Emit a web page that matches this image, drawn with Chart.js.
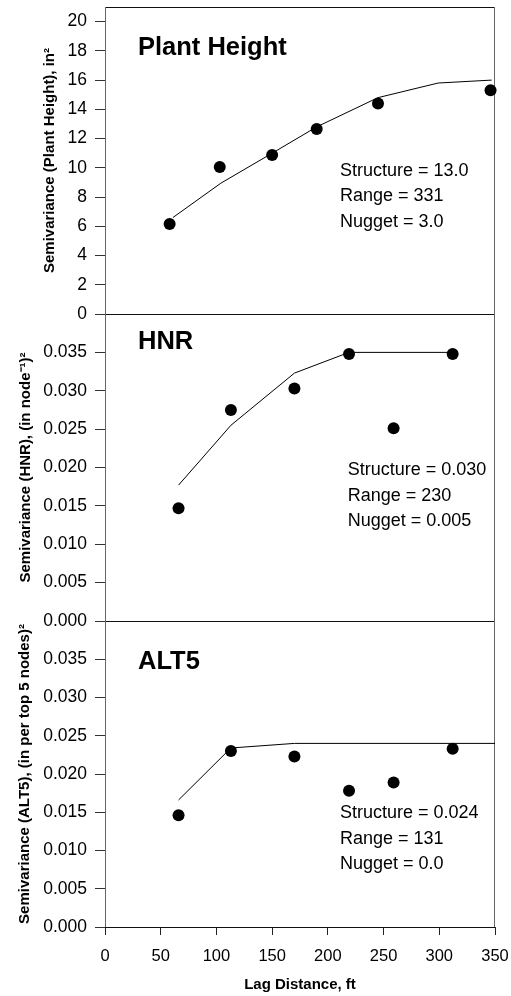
<!DOCTYPE html>
<html>
<head>
<meta charset="utf-8">
<title>Semivariograms</title>
<script src="https://cdn.jsdelivr.net/npm/chart.js@4.4.1/dist/chart.umd.min.js"></script>
<style>
  body { margin: 0; background: #fff; }
  #wrap { position: relative; width: 511px; height: 996px; }
  #wrap canvas { position: absolute; left: 0; top: 0; }
</style>
</head>
<body>
<div id="wrap">
  <canvas id="plant-chart" width="511" height="996"></canvas>
  <canvas id="hnr-chart" width="511" height="996"></canvas>
  <canvas id="alt5-chart" width="511" height="996"></canvas>
</div>
<script>
const FONT = '"Liberation Sans", Arial, sans-serif';

// tick values
const lagTicks = [0, 50, 100, 150, 200, 250, 300, 350];
const plantTicks = [0, 2, 4, 6, 8, 10, 12, 14, 16, 18, 20];
const hnrTicks = [0, 0.005, 0.010, 0.015, 0.020, 0.025, 0.030, 0.035, 0.040];
const alt5Ticks = [0, 0.005, 0.010, 0.015, 0.020, 0.025, 0.030, 0.035, 0.040];

// Plant Height
const lagPlant = [58, 103, 150, 190, 245, 346];
const semivarPlant = [6.15, 10.05, 10.87, 12.65, 14.4, 15.3];
const modelLagPlant = [61, 104, 150, 190, 245, 299, 347];
const modelPlant = [6.6, 8.95, 11.0, 12.8, 14.8, 15.8, 16.0];

// HNR
const lagHNR = [66, 113, 170, 219, 259, 312];
const semivarHNR = [0.0147, 0.0275, 0.0303, 0.0348, 0.0251, 0.0348];
const modelLagHNR = [66, 113, 170, 219, 312];
const modelHNR = [0.0177, 0.0255, 0.0323, 0.0350, 0.0350];

// ALT5
const lagALT5 = [66, 113, 170, 219, 259, 312];
const semivarALT5 = [0.0146, 0.0230, 0.0223, 0.0178, 0.0189, 0.0233];
const modelLagALT5 = [66, 113, 170, 350];
const modelALT5 = [0.0166, 0.0234, 0.0240, 0.0240];

// frame around each panel
const panelFrame = {
    id: 'panelFrame',
    beforeDatasetsDraw(chart) {
        const {ctx, chartArea: a} = chart;
        ctx.save();
        ctx.lineWidth = 1;
        ctx.strokeStyle = '#111';
        ctx.beginPath();
        ctx.moveTo(a.left, a.top + 0.5);
        ctx.lineTo(a.right, a.top + 0.5);
        ctx.moveTo(a.left, a.bottom + 0.5);
        ctx.lineTo(a.right, a.bottom + 0.5);
        ctx.stroke();
        ctx.strokeStyle = '#666';
        ctx.beginPath();
        ctx.moveTo(a.left + 0.5, a.top);
        ctx.lineTo(a.left + 0.5, a.bottom);
        ctx.moveTo(a.right - 0.5, a.top);
        ctx.lineTo(a.right - 0.5, a.bottom);
        ctx.stroke();
        ctx.restore();
    }
};

// panel name and fit parameters
const panelText = {
    id: 'panelText',
    afterDraw(chart, args, opts) {
        const {ctx, chartArea: a} = chart;
        ctx.save();
        ctx.fillStyle = '#000';
        ctx.textAlign = 'left';
        ctx.textBaseline = 'alphabetic';
        ctx.font = 'bold 25.5px ' + FONT;
        ctx.fillText(opts.name, a.left + 33, a.top + opts.nameY);
        ctx.font = '18px ' + FONT;
        opts.lines.forEach((t, i) => {
            ctx.fillText(t, a.left + opts.linesX, a.top + opts.linesY + i * 25.5);
        });
        ctx.restore();
    }
};

function toPoints(xs, ys) {
    return xs.map((x, i) => ({x: x, y: ys[i]}));
}

// build one panel
function createPanel(id, cfg) {
    const ctx = document.getElementById(id).getContext('2d');
    new Chart(ctx, {
        type: 'scatter',
        data: {
            datasets: [{
                data: toPoints(cfg.lags, cfg.values),
                showLine: false,
                pointRadius: 6,
                pointHoverRadius: 6,
                backgroundColor: '#000',
                borderWidth: 0,
                clip: false
            }, {
                data: toPoints(cfg.modelLags, cfg.model),
                showLine: true,
                pointRadius: 0,
                borderColor: '#000',
                borderWidth: 1,
                clip: false
            }]
        },
        plugins: [panelFrame, panelText],
        options: {
            responsive: false,
            animation: false,
            events: [],
            layout: {
                padding: {top: cfg.top, bottom: cfg.showX ? 0 : 996 - cfg.bottom, left: 0, right: 16}
            },
            plugins: {
                legend: {display: false},
                tooltip: {enabled: false},
                panelText: cfg.text
            },
            scales: {
                x: {
                    type: 'linear',
                    min: 0,
                    max: 350,
                    display: cfg.showX,
                    afterBuildTicks: scale => {
                        scale.ticks = lagTicks.map(v => ({value: v}));
                    },
                    afterFit: scale => {
                        scale.height = cfg.showX ? 996 - cfg.bottom : 0;
                        scale.paddingLeft = 0;
                        scale.paddingRight = 0;
                    },
                    border: {display: false},
                    grid: {
                        drawOnChartArea: false,
                        drawTicks: true,
                        tickLength: 8,
                        color: '#222'
                    },
                    ticks: {
                        padding: 12,
                        color: '#000',
                        font: {family: FONT, size: 16.5},
                        maxRotation: 0
                    },
                    title: {
                        display: true,
                        text: 'Lag Distance, ft',
                        color: '#000',
                        font: {family: FONT, size: 15, weight: 'bold'},
                        padding: {top: 0, bottom: 2}
                    }
                },
                y: {
                    type: 'linear',
                    min: cfg.yMin,
                    max: cfg.yMax,
                    afterBuildTicks: scale => {
                        scale.ticks = cfg.ticks.map(v => ({value: v}));
                    },
                    afterFit: scale => {
                        scale.width = 105;
                        scale.paddingTop = 0;
                        scale.paddingBottom = 0;
                    },
                    border: {display: false},
                    grid: {
                        drawOnChartArea: false,
                        drawTicks: true,
                        tickLength: 10,
                        color: '#333'
                    },
                    ticks: {
                        padding: 8,
                        color: '#000',
                        font: {family: FONT, size: 17.5},
                        callback: cfg.tickFormat
                    },
                    title: {
                        display: true,
                        text: cfg.yTitle,
                        color: '#000',
                        font: {family: FONT, size: 15, weight: 'bold'},
                        padding: {top: cfg.titlePad, bottom: 0}
                    }
                }
            }
        }
    });
}

function smallTick(v) {
    return v > 0.0399 ? '' : v.toFixed(3);
}

document.addEventListener('DOMContentLoaded', function() {
    createPanel('plant-chart', {
        top: 7, bottom: 314, showX: false,
        lags: lagPlant, values: semivarPlant,
        modelLags: modelLagPlant, model: modelPlant,
        yMin: 0, yMax: 21, ticks: plantTicks,
        tickFormat: v => String(v),
        yTitle: 'Semivariance (Plant Height), in\u00B2',
        titlePad: 41,
        text: {
            name: 'Plant Height', nameY: 48,
            lines: ['Structure = 13.0', 'Range = 331', 'Nugget = 3.0'],
            linesX: 235, linesY: 168.7
        }
    });
    createPanel('hnr-chart', {
        top: 314, bottom: 621, showX: false,
        lags: lagHNR, values: semivarHNR,
        modelLags: modelLagHNR, model: modelHNR,
        yMin: 0, yMax: 0.04, ticks: hnrTicks,
        tickFormat: smallTick,
        yTitle: 'Semivariance (HNR), (in node\u207B\u00B9)\u00B2',
        titlePad: 17,
        text: {
            name: 'HNR', nameY: 35.3,
            lines: ['Structure = 0.030', 'Range = 230', 'Nugget = 0.005'],
            linesX: 242.7, linesY: 161
        }
    });
    createPanel('alt5-chart', {
        top: 621, bottom: 927, showX: true,
        lags: lagALT5, values: semivarALT5,
        modelLags: modelLagALT5, model: modelALT5,
        yMin: 0, yMax: 0.04, ticks: alt5Ticks,
        tickFormat: smallTick,
        yTitle: 'Semivariance (ALT5), (in per top 5 nodes)\u00B2',
        titlePad: 16,
        text: {
            name: 'ALT5', nameY: 48,
            lines: ['Structure = 0.024', 'Range = 131', 'Nugget = 0.0'],
            linesX: 235, linesY: 197.3
        }
    });
});
</script>
</body>
</html>
